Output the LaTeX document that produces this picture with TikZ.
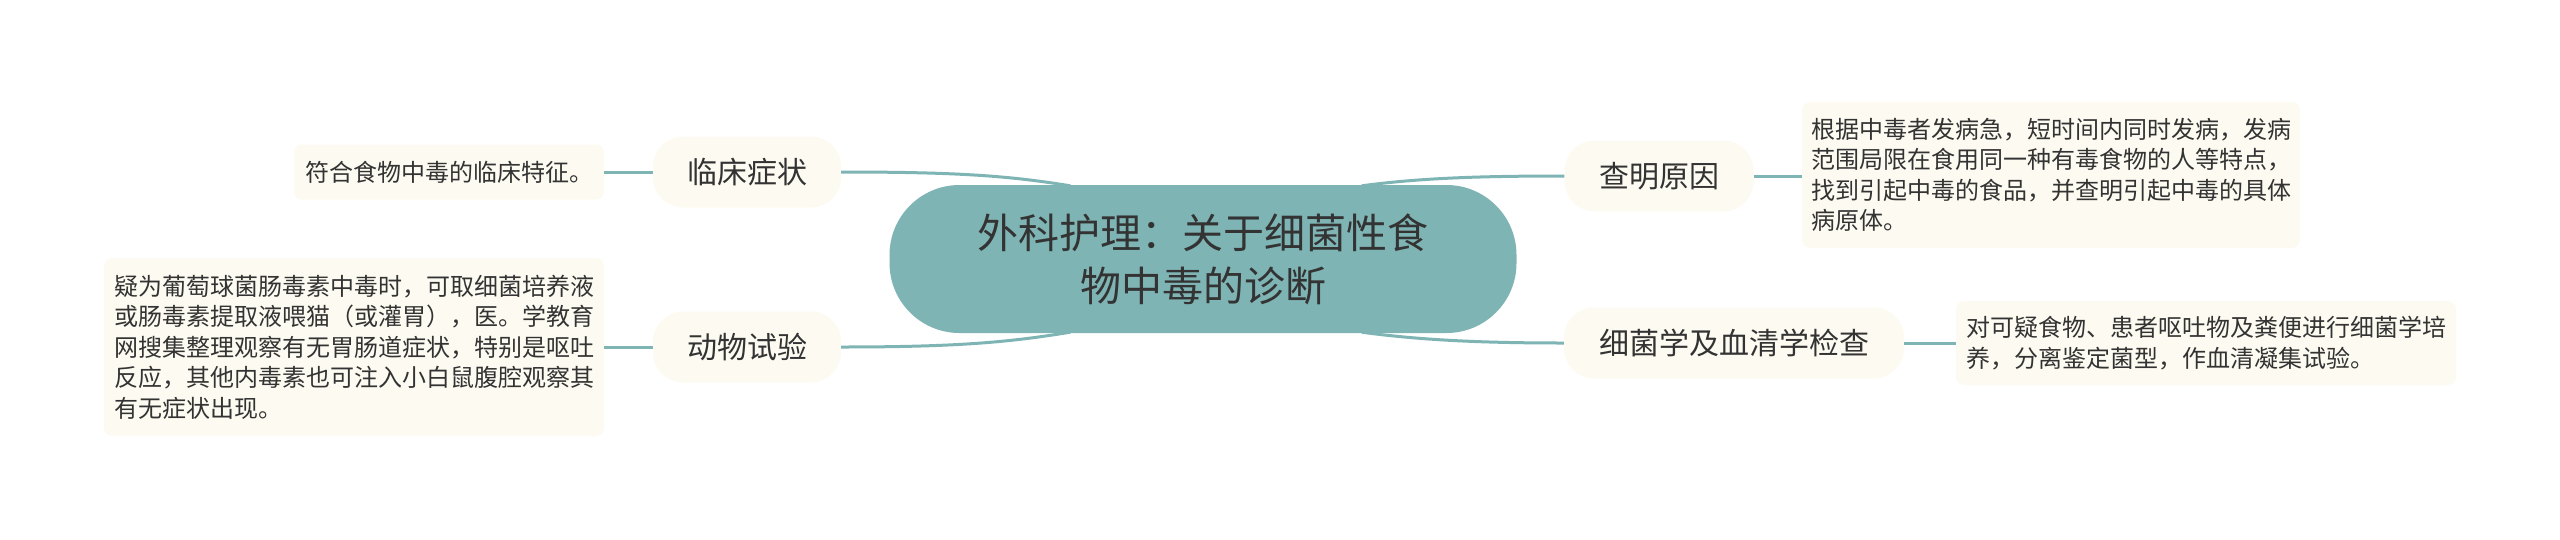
\documentclass[tikz,border=0pt]{standalone}
\usepackage{fontspec}
\setmainfont{Noto Sans CJK SC}
\usetikzlibrary{calc}
\definecolor{teal1}{HTML}{7FB4B5}
\definecolor{cream}{HTML}{FDFBF1}
\definecolor{txt}{HTML}{333333}
\begin{document}
\begin{tikzpicture}[x=1pt,y=-1pt,
 root/.style={fill=teal1, rounded corners=70pt, minimum width=627pt, minimum height=148pt, inner sep=0pt, align=center, text=txt, font=\fontsize{41}{53}\selectfont},
 branch/.style={fill=cream, rounded corners=30pt, minimum height=71pt, inner sep=0pt, text=txt, font=\fontsize{30}{36}\selectfont},
 leaf/.style={fill=cream, rounded corners=8pt, inner sep=0pt, align=left, text=txt, font=\fontsize{24}{30.5}\selectfont},
 link/.style={draw=teal1, line width=3pt}]
\useasboundingbox[fill=white] (0,0) rectangle (2560,539);

\node[root] (c) at (1203,259) {外科护理：关于细菌性食\\物中毒的诊断};

\node[branch, minimum width=188pt] (b1) at (747,172) {临床症状};
\node[branch, minimum width=188pt] (b2) at (747,347) {动物试验};
\node[branch, minimum width=189pt] (b3) at (1659,176) {查明原因};
\node[branch, minimum width=340pt] (b4) at (1734,343) {细菌学及血清学检查};

\node[leaf, minimum width=310pt, minimum height=55pt] (l1) at (449,172) {符合食物中毒的临床特征。};
\node[leaf, minimum width=500pt, minimum height=178pt] (l2) at (354,347) {疑为葡萄球菌肠毒素中毒时，可取细菌培养液\\或肠毒素提取液喂猫（或灌胃），医。学教育\\网搜集整理观察有无胃肠道症状，特别是呕吐\\反应，其他内毒素也可注入小白鼠腹腔观察其\\有无症状出现。};
\node[leaf, minimum width=498pt, minimum height=146pt] (l3) at (2051,175) {根据中毒者发病急，短时间内同时发病，发病\\范围局限在食用同一种有毒食物的人等特点，\\找到引起中毒的食品，并查明引起中毒的具体\\病原体。};
\node[leaf, minimum width=500pt, minimum height=84pt] (l4) at (2206,343) {对可疑食物、患者呕吐物及粪便进行细菌学培\\养，分离鉴定菌型，作血清凝集试验。};

% root to branches
\draw[link] ($(c.north west)+(181,1)$) .. controls (1010,176) and (960,172) .. (b1.east);
\draw[link] ($(c.south west)+(181,-1)$) .. controls (1010,342) and (960,347) .. (b2.east);
\draw[link] ($(c.north east)+(-155,1)$) .. controls (1420,178) and (1480,176) .. (b3.west);
\draw[link] ($(c.south east)+(-155,-1)$) .. controls (1420,340) and (1480,343) .. (b4.west);

% branches to leaves
\draw[link] (b1.west) -- (b1.west -| l1.east);
\draw[link] (b2.west) -- (b2.west -| l2.east);
\draw[link] (b3.east) -- (b3.east -| l3.west);
\draw[link] (b4.east) -- (b4.east -| l4.west);
\end{tikzpicture}
\end{document}
